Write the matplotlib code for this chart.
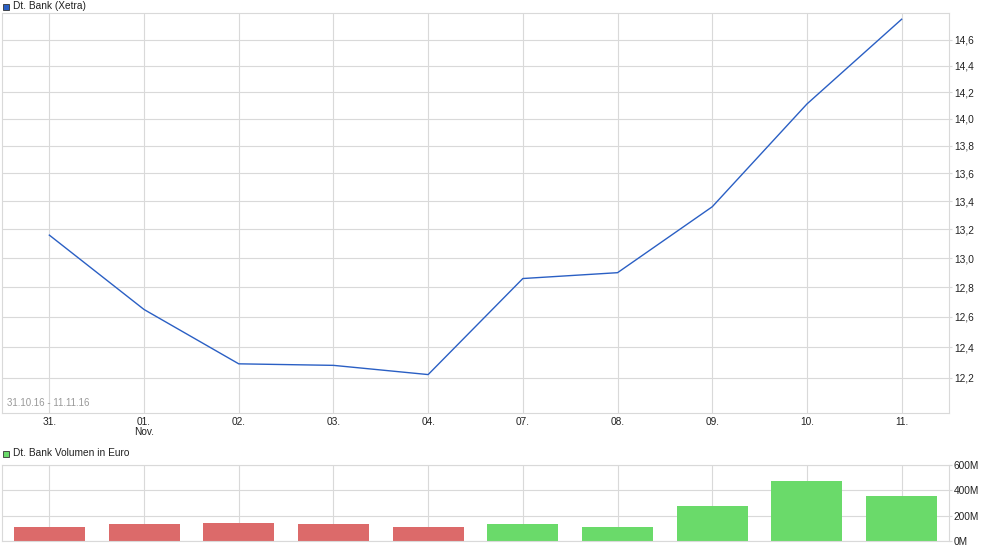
import matplotlib
matplotlib.use("Agg")
import matplotlib.pyplot as plt
from matplotlib.patches import Rectangle
from matplotlib.ticker import FixedLocator, NullLocator

plt.rcParams['font.family'] = ['Liberation Sans', 'DejaVu Sans']
plt.rcParams['font.size'] = 7

# data
tage = ['31.', '01.\nNov.', '02.', '03.', '04.', '07.', '08.', '09.', '10.', '11.']
kurs = [13.16, 12.65, 12.29, 12.28, 12.22, 12.86, 12.90, 13.36, 14.11, 14.76]
volumen = [110, 134, 142, 134, 110, 134, 110, 276, 474, 355]  # Mio. Euro
steigt = [False, False, False, False, False, True, True, True, True, True]
kurs_ticks = [12.2, 12.4, 12.6, 12.8, 13.0, 13.2, 13.4, 13.6, 13.8, 14.0, 14.2, 14.4, 14.6]
vol_ticks = [0, 200, 400, 600]

grid_c = '#d9d9d9'
x = list(range(len(tage)))

fig = plt.figure(figsize=(9.9, 5.51), dpi=100)
ax = fig.add_axes([2/990, 1-413/551, 947/990, 400/551])
ax2 = fig.add_axes([2/990, 1-541/551, 947/990, 76/551])

# Kurs
ax.plot(x, kurs, color='#2a5fc4', lw=1)
ax.set_yscale('log')
ax.set_ylim(11.973, 14.809)
ax.set_xlim(-0.5, 9.5)
ax.yaxis.set_major_locator(FixedLocator(kurs_ticks))
ax.yaxis.set_minor_locator(NullLocator())
ax.set_yticklabels([('%.1f' % v).replace('.', ',') for v in kurs_ticks])
ax.set_xticks(x)
ax.set_xticklabels(tage, linespacing=0.95)
ax.grid(True, color=grid_c, lw=0.8)
ax.text(0.005, 0.018, '31.10.16 - 11.11.16', transform=ax.transAxes,
        color='#999999', fontsize=7)

# Volumen
farben = ['#6ada6a' if s else '#dc6a6a' for s in steigt]
ax2.bar(x, volumen, width=0.75, color=farben, zorder=2)
ax2.set_xlim(-0.5, 9.5)
ax2.set_ylim(0, 600)
ax2.set_yticks(vol_ticks)
ax2.set_yticklabels(['%dM' % v for v in vol_ticks])
ax2.set_xticks(x)
ax2.set_xticklabels([])
ax2.grid(True, color=grid_c, lw=0.8, zorder=0)
ax2.set_axisbelow(True)

for a in (ax, ax2):
    a.yaxis.tick_right()
    a.tick_params(axis='y', length=2, color=grid_c, pad=1.5, labelcolor='#222222',
                  labelsize=7.3)
    a.tick_params(axis='x', length=0, pad=3, labelcolor='#222222', labelsize=7.3)
    for s in a.spines.values():
        s.set_color(grid_c)
        s.set_linewidth(0.8)

# Legenden-Kopfzeilen
fig.patches.append(Rectangle((3/990, 1-10/551), 6/990, 6/551, transform=fig.transFigure,
                             facecolor='#2a5fc4', edgecolor='#333333', lw=0.6))
fig.text(13/990, 1-6/551, 'Dt. Bank (Xetra)', va='center', fontsize=7.3, color='#222222')
fig.patches.append(Rectangle((3/990, 1-457/551), 6/990, 6/551, transform=fig.transFigure,
                             facecolor='#6ada6a', edgecolor='#333333', lw=0.6))
fig.text(13/990, 1-453/551, 'Dt. Bank Volumen in Euro', va='center', fontsize=7.3,
         color='#222222')

fig.savefig('out.png', dpi=100)
